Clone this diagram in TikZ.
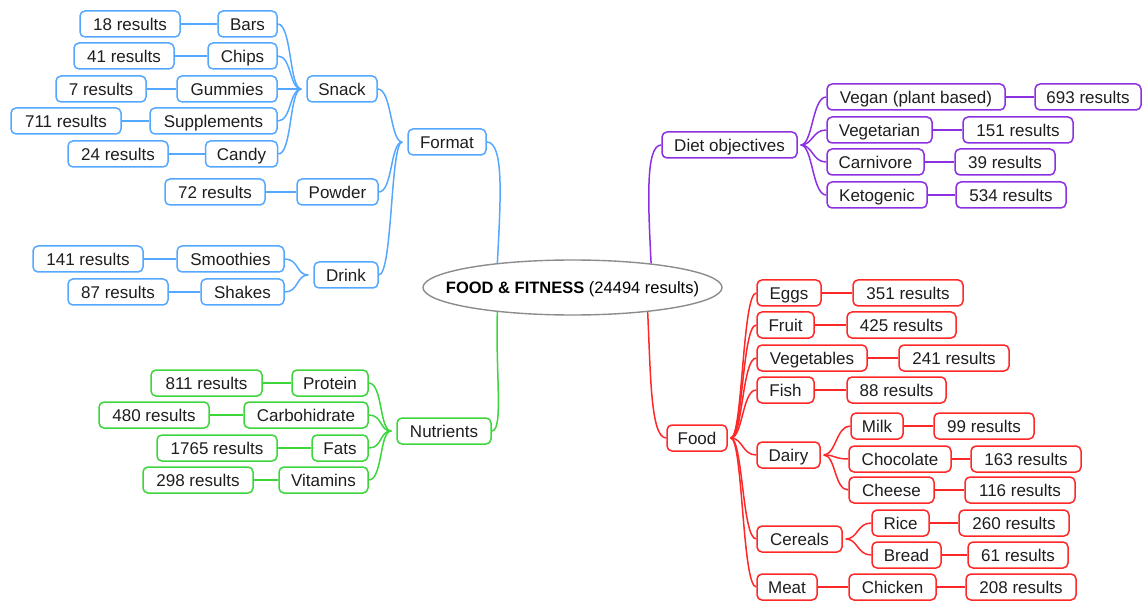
\documentclass[tikz,border=0pt]{standalone}
\usepackage{fontspec}
\setmainfont{Liberation Sans}
\usetikzlibrary{shapes.geometric}
\definecolor{cblue}{RGB}{85,168,255}
\definecolor{cpurp}{RGB}{140,48,226}
\definecolor{cred}{RGB}{255,40,40}
\definecolor{cgreen}{RGB}{60,214,60}
\definecolor{txt}{RGB}{30,30,30}
\definecolor{cgray}{RGB}{140,140,140}
\tikzset{
  box/.style={draw, rounded corners=5pt, line width=1.5pt, fill=white, minimum height=26pt, inner sep=0pt, text height=12.2pt, text depth=0pt, text=txt, font=\fontsize{17}{20}\selectfont},
  w/.style={minimum width=#1pt},
  bl/.style={box, draw=cblue},
  pu/.style={box, draw=cpurp},
  rd/.style={box, draw=cred},
  gr/.style={box, draw=cgreen},
  eb/.style={line width=1.5pt, draw=cblue},
  ep/.style={line width=1.5pt, draw=cpurp},
  er/.style={line width=1.5pt, draw=cred},
  eg/.style={line width=1.5pt, draw=cgreen},
}
\newcommand\lfan[3]{\draw[#1] (#2.east) .. controls +(14,0) and +(-12,0) .. ([xshift=-5pt]#3.west);}
\newcommand\rfan[3]{\draw[#1] ([xshift=3pt]#2.east) .. controls +(12,0) and +(-14,0) .. (#3.west);}
\newcommand\sline[3]{\draw[#1] (#2) -- (#3);}
\begin{document}
\begin{tikzpicture}[x=1pt,y=-1pt]
\useasboundingbox (0,0) rectangle (1142,601);
% center
\node[draw=cgray, line width=1.4pt, fill=white, ellipse, minimum width=299pt, minimum height=55pt, inner sep=0pt, text height=12.2pt, text depth=0pt, text=black, font=\fontsize{16.5}{20}\selectfont] (c) at (572.5,287.5) {\makebox[0pt]{\textbf{FOOD \& FITNESS} (24494 results)}};
% blue
\node[bl,w=59] (bars) at (247.5,24) {Bars};
\node[bl,w=100] (r18) at (130,24) {18 results};
\node[bl,w=69] (chips) at (242.5,56) {Chips};
\node[bl,w=100] (r41) at (124,56) {41 results};
\node[bl,w=100] (gum) at (227,89) {Gummies};
\node[bl,w=90] (r7) at (101,89) {7 results};
\node[bl,w=127] (supp) at (213.5,121) {Supplements};
\node[bl,w=110] (r711) at (66,121) {711 results};
\node[bl,w=72] (candy) at (241.5,154) {Candy};
\node[bl,w=100] (r24) at (118,154) {24 results};
\node[bl,w=70] (snack) at (342,89) {Snack};
\node[bl,w=78] (format) at (447,142) {Format};
\node[bl,w=81] (powder) at (337.5,192) {Powder};
\node[bl,w=100] (r72) at (215,192) {72 results};
\node[bl,w=64] (drink) at (346,275) {Drink};
\node[bl,w=107] (smooth) at (230.5,259) {Smoothies};
\node[bl,w=110] (r141) at (88,259) {141 results};
\node[bl,w=83] (shakes) at (242.5,292) {Shakes};
\node[bl,w=100] (r87) at (118,292) {87 results};
% purple
\node[pu,w=135] (diet) at (729.5,145) {Diet objectives};
\node[pu,w=178] (vegan) at (916,97) {Vegan (plant based)};
\node[pu,w=106] (r693) at (1088,97) {693 results};
\node[pu,w=105] (veget) at (879.5,130) {Vegetarian};
\node[pu,w=110] (r151) at (1018,130) {151 results};
\node[pu,w=97] (carn) at (875.5,162) {Carnivore};
\node[pu,w=100] (r39) at (1005,162) {39 results};
\node[pu,w=100] (keto) at (877,195) {Ketogenic};
\node[pu,w=110] (r534) at (1011,195) {534 results};
% red
\node[rd,w=60] (food) at (697,438) {Food};
\node[rd,w=64] (eggs) at (789,293) {Eggs};
\node[rd,w=110] (r351) at (908,293) {351 results};
\node[rd,w=57] (fruit) at (785.5,325) {Fruit};
\node[rd,w=109] (r425) at (901.5,325) {425 results};
\node[rd,w=110] (veg) at (812,358) {Vegetables};
\node[rd,w=110] (r241) at (954,358) {241 results};
\node[rd,w=57] (fish) at (785.5,390) {Fish};
\node[rd,w=99] (r88) at (896.5,390) {88 results};
\node[rd,w=63] (dairy) at (788.5,455) {Dairy};
\node[rd,w=52] (milk) at (877,426) {Milk};
\node[rd,w=100] (r99) at (984,426) {99 results};
\node[rd,w=102] (choc) at (900,459) {Chocolate};
\node[rd,w=110] (r163) at (1026,459) {163 results};
\node[rd,w=85] (cheese) at (891.5,490) {Cheese};
\node[rd,w=110] (r116) at (1020,490) {116 results};
\node[rd,w=85] (cereals) at (799.5,539) {Cereals};
\node[rd,w=57] (rice) at (900.5,523) {Rice};
\node[rd,w=110] (r260) at (1014,523) {260 results};
\node[rd,w=69] (bread) at (906.5,555) {Bread};
\node[rd,w=100] (r61) at (1018,555) {61 results};
\node[rd,w=60] (meat) at (787,587) {Meat};
\node[rd,w=87] (chicken) at (892.5,587) {Chicken};
\node[rd,w=110] (r208) at (1021,587) {208 results};
% green
\node[gr,w=94] (nutr) at (444,431) {Nutrients};
\node[gr,w=76] (protein) at (330,383) {Protein};
\node[gr,w=111] (r811) at (206.5,383) {811 results};
\node[gr,w=124] (carb) at (306,415) {Carbohidrate};
\node[gr,w=110] (r480) at (154,415) {480 results};
\node[gr,w=56] (fats) at (340,448) {Fats};
\node[gr,w=120] (r1765) at (217,448) {1765 results};
\node[gr,w=89] (vit) at (323.5,480) {Vitamins};
\node[gr,w=110] (r298) at (198,480) {298 results};
% edges: center
\draw[eb] (format.east) .. controls +(18,0) and +(3,-60) .. (c.162.6);
\draw[ep] (diet.west) .. controls +(-16,0) and +(-3,-60) .. (c.17.4);
\draw[eg] (nutr.east) .. controls +(12,0) and +(-2,60) .. (c.198.4);
\draw[er] (food.west) .. controls +(-16,0) and +(3,60) .. (c.342.5);
% blue
\lfan{eb}{snack}{format}
\lfan{eb}{powder}{format}
\lfan{eb}{drink}{format}
\lfan{eb}{bars}{snack}
\lfan{eb}{chips}{snack}
\lfan{eb}{gum}{snack}
\lfan{eb}{supp}{snack}
\lfan{eb}{candy}{snack}
\lfan{eb}{smooth}{drink}
\lfan{eb}{shakes}{drink}
\sline{eb}{r18}{bars}
\sline{eb}{r41}{chips}
\sline{eb}{r7}{gum}
\sline{eb}{r711}{supp}
\sline{eb}{r24}{candy}
\sline{eb}{r72}{powder}
\sline{eb}{r141}{smooth}
\sline{eb}{r87}{shakes}
% purple
\rfan{ep}{diet}{vegan}
\rfan{ep}{diet}{veget}
\rfan{ep}{diet}{carn}
\rfan{ep}{diet}{keto}
\sline{ep}{vegan}{r693}
\sline{ep}{veget}{r151}
\sline{ep}{carn}{r39}
\sline{ep}{keto}{r534}
% red
\rfan{er}{food}{eggs}
\rfan{er}{food}{fruit}
\rfan{er}{food}{veg}
\rfan{er}{food}{fish}
\rfan{er}{food}{dairy}
\rfan{er}{food}{cereals}
\rfan{er}{food}{meat}
\rfan{er}{dairy}{milk}
\rfan{er}{dairy}{choc}
\rfan{er}{dairy}{cheese}
\rfan{er}{cereals}{rice}
\rfan{er}{cereals}{bread}
\sline{er}{meat}{chicken}
\sline{er}{eggs}{r351}
\sline{er}{fruit}{r425}
\sline{er}{veg}{r241}
\sline{er}{fish}{r88}
\sline{er}{milk}{r99}
\sline{er}{choc}{r163}
\sline{er}{cheese}{r116}
\sline{er}{rice}{r260}
\sline{er}{bread}{r61}
\sline{er}{chicken}{r208}
% green
\lfan{eg}{protein}{nutr}
\lfan{eg}{carb}{nutr}
\lfan{eg}{fats}{nutr}
\lfan{eg}{vit}{nutr}
\sline{eg}{r811}{protein}
\sline{eg}{r480}{carb}
\sline{eg}{r1765}{fats}
\sline{eg}{r298}{vit}
\end{tikzpicture}
\end{document}
